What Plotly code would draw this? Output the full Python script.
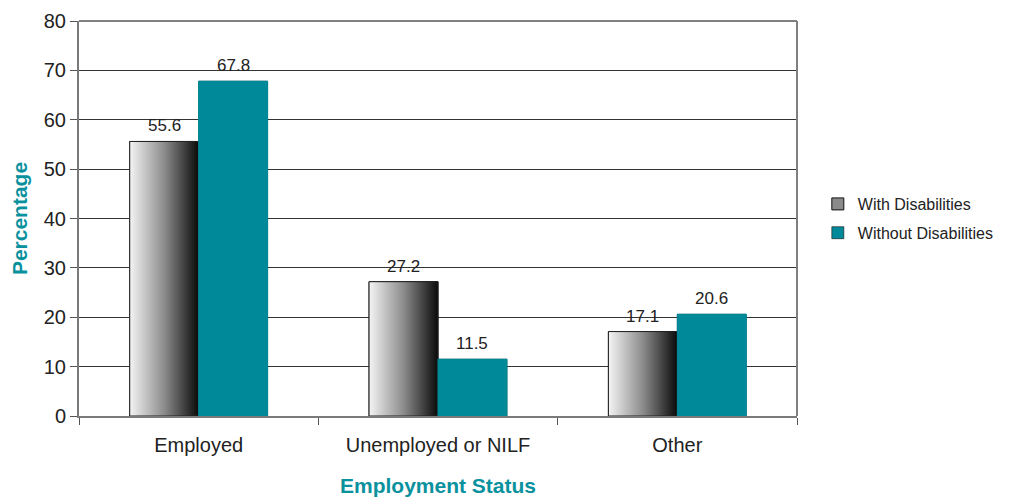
import plotly.graph_objects as go

# Employment status by disability
categories = ["Employed", "Unemployed or NILF", "Other"]
with_disabilities = [55.6, 27.2, 17.1]
without_disabilities = [67.8, 11.5, 20.6]
y_ticks = [0, 10, 20, 30, 40, 50, 60, 70, 80]

TEAL = "#008A99"
TITLE_TEAL = "#0A919E"
FONT = "Liberation Sans, Arial, sans-serif"
BAR_W = 0.288

idx = list(range(len(categories)))
x_with = [i - BAR_W / 2 for i in idx]
x_without = [i + BAR_W / 2 for i in idx]

fig = go.Figure()

fig.add_trace(go.Bar(
    x=x_with, y=with_disabilities, width=BAR_W, name="With Disabilities",
    marker=dict(color="#8a8a8a", line=dict(color="#111", width=1)),
    legendgroup="a", hoverinfo="y",
))
fig.add_trace(go.Bar(
    x=x_without, y=without_disabilities, width=BAR_W, name="Without Disabilities",
    marker=dict(color=TEAL, line=dict(color="#111", width=0.6)),
    legendgroup="b", hoverinfo="y",
))

# Light-to-dark shaded face on each "With Disabilities" bar
for xc, v in zip(x_with, with_disabilities):
    x0, x1 = xc - BAR_W / 2, xc + BAR_W / 2
    fig.add_trace(go.Scatter(
        x=[x0, x1, x1, x0, x0], y=[0, 0, v, v, 0],
        mode="lines", fill="toself",
        fillgradient=dict(type="horizontal",
                          colorscale=[[0, "#f4f4f4"], [0.5, "#8c8c8c"], [1, "#0a0a0a"]]),
        line=dict(color="#222", width=1),
        showlegend=False, hoverinfo="skip",
    ))

# Teal bars drawn without a visible outline on the plot
for xc, v in zip(x_without, without_disabilities):
    x0, x1 = xc - BAR_W / 2, xc + BAR_W / 2
    fig.add_trace(go.Scatter(
        x=[x0, x1, x1, x0, x0], y=[0, 0, v, v, 0],
        mode="lines", fill="toself", fillcolor=TEAL,
        line=dict(color=TEAL, width=1),
        showlegend=False, hoverinfo="skip",
    ))

# Value labels above each bar
for xs, vals in ((x_with, with_disabilities), (x_without, without_disabilities)):
    for xc, v in zip(xs, vals):
        fig.add_annotation(
            x=xc, y=v, text=f"{v:.1f}", showarrow=False,
            yanchor="bottom", yshift=4,
            font=dict(family=FONT, size=17, color="#222"),
        )

fig.update_layout(
    width=1028, height=497,
    margin=dict(l=79, r=231, t=21, b=81),
    paper_bgcolor="white", plot_bgcolor="white",
    font=dict(family=FONT, color="#222"),
    barmode="overlay",
    showlegend=True,
    legend=dict(
        x=1.029, y=0.50, xanchor="left", yanchor="middle",
        font=dict(family=FONT, size=16, color="#222"),
        tracegroupgap=5, bgcolor="rgba(0,0,0,0)",
    ),
)

fig.update_xaxes(
    range=[-0.5, len(categories) - 0.5],
    tickvals=idx, ticktext=categories, ticks="",
    tickfont=dict(family=FONT, size=20, color="#222"),
    ticklabelstandoff=10,
    showgrid=False, zeroline=False,
    showline=True, linecolor="#7a7a7a", linewidth=2, mirror=False,
    minor=dict(tick0=0.5, dtick=1, ticks="outside", ticklen=7, tickcolor="#555", showgrid=False),
    title=dict(text="<b>Employment Status</b>", font=dict(family=FONT, size=21, color=TITLE_TEAL), standoff=24),
    automargin=False,
    fixedrange=True,
)
fig.update_yaxes(
    range=[0, 80], tickvals=y_ticks,
    ticks="outside", ticklen=7, tickcolor="#555",
    tickfont=dict(family=FONT, size=20, color="#222"),
    showgrid=True, gridcolor="#333", gridwidth=1,
    zeroline=False,
    showline=True, linecolor="#7a7a7a", linewidth=2,
    title=dict(text="<b>Percentage</b>", font=dict(family=FONT, size=21, color=TITLE_TEAL), standoff=10),
    automargin=False,
    fixedrange=True,
)

# Frame on the top and right of the plotting area
fig.add_shape(type="line", xref="paper", yref="paper", x0=0, x1=1, y0=1, y1=1,
              line=dict(color="#808080", width=2))
fig.add_shape(type="line", xref="paper", yref="paper", x0=1, x1=1, y0=0, y1=1,
              line=dict(color="#808080", width=2))

fig.write_html("out.html")
